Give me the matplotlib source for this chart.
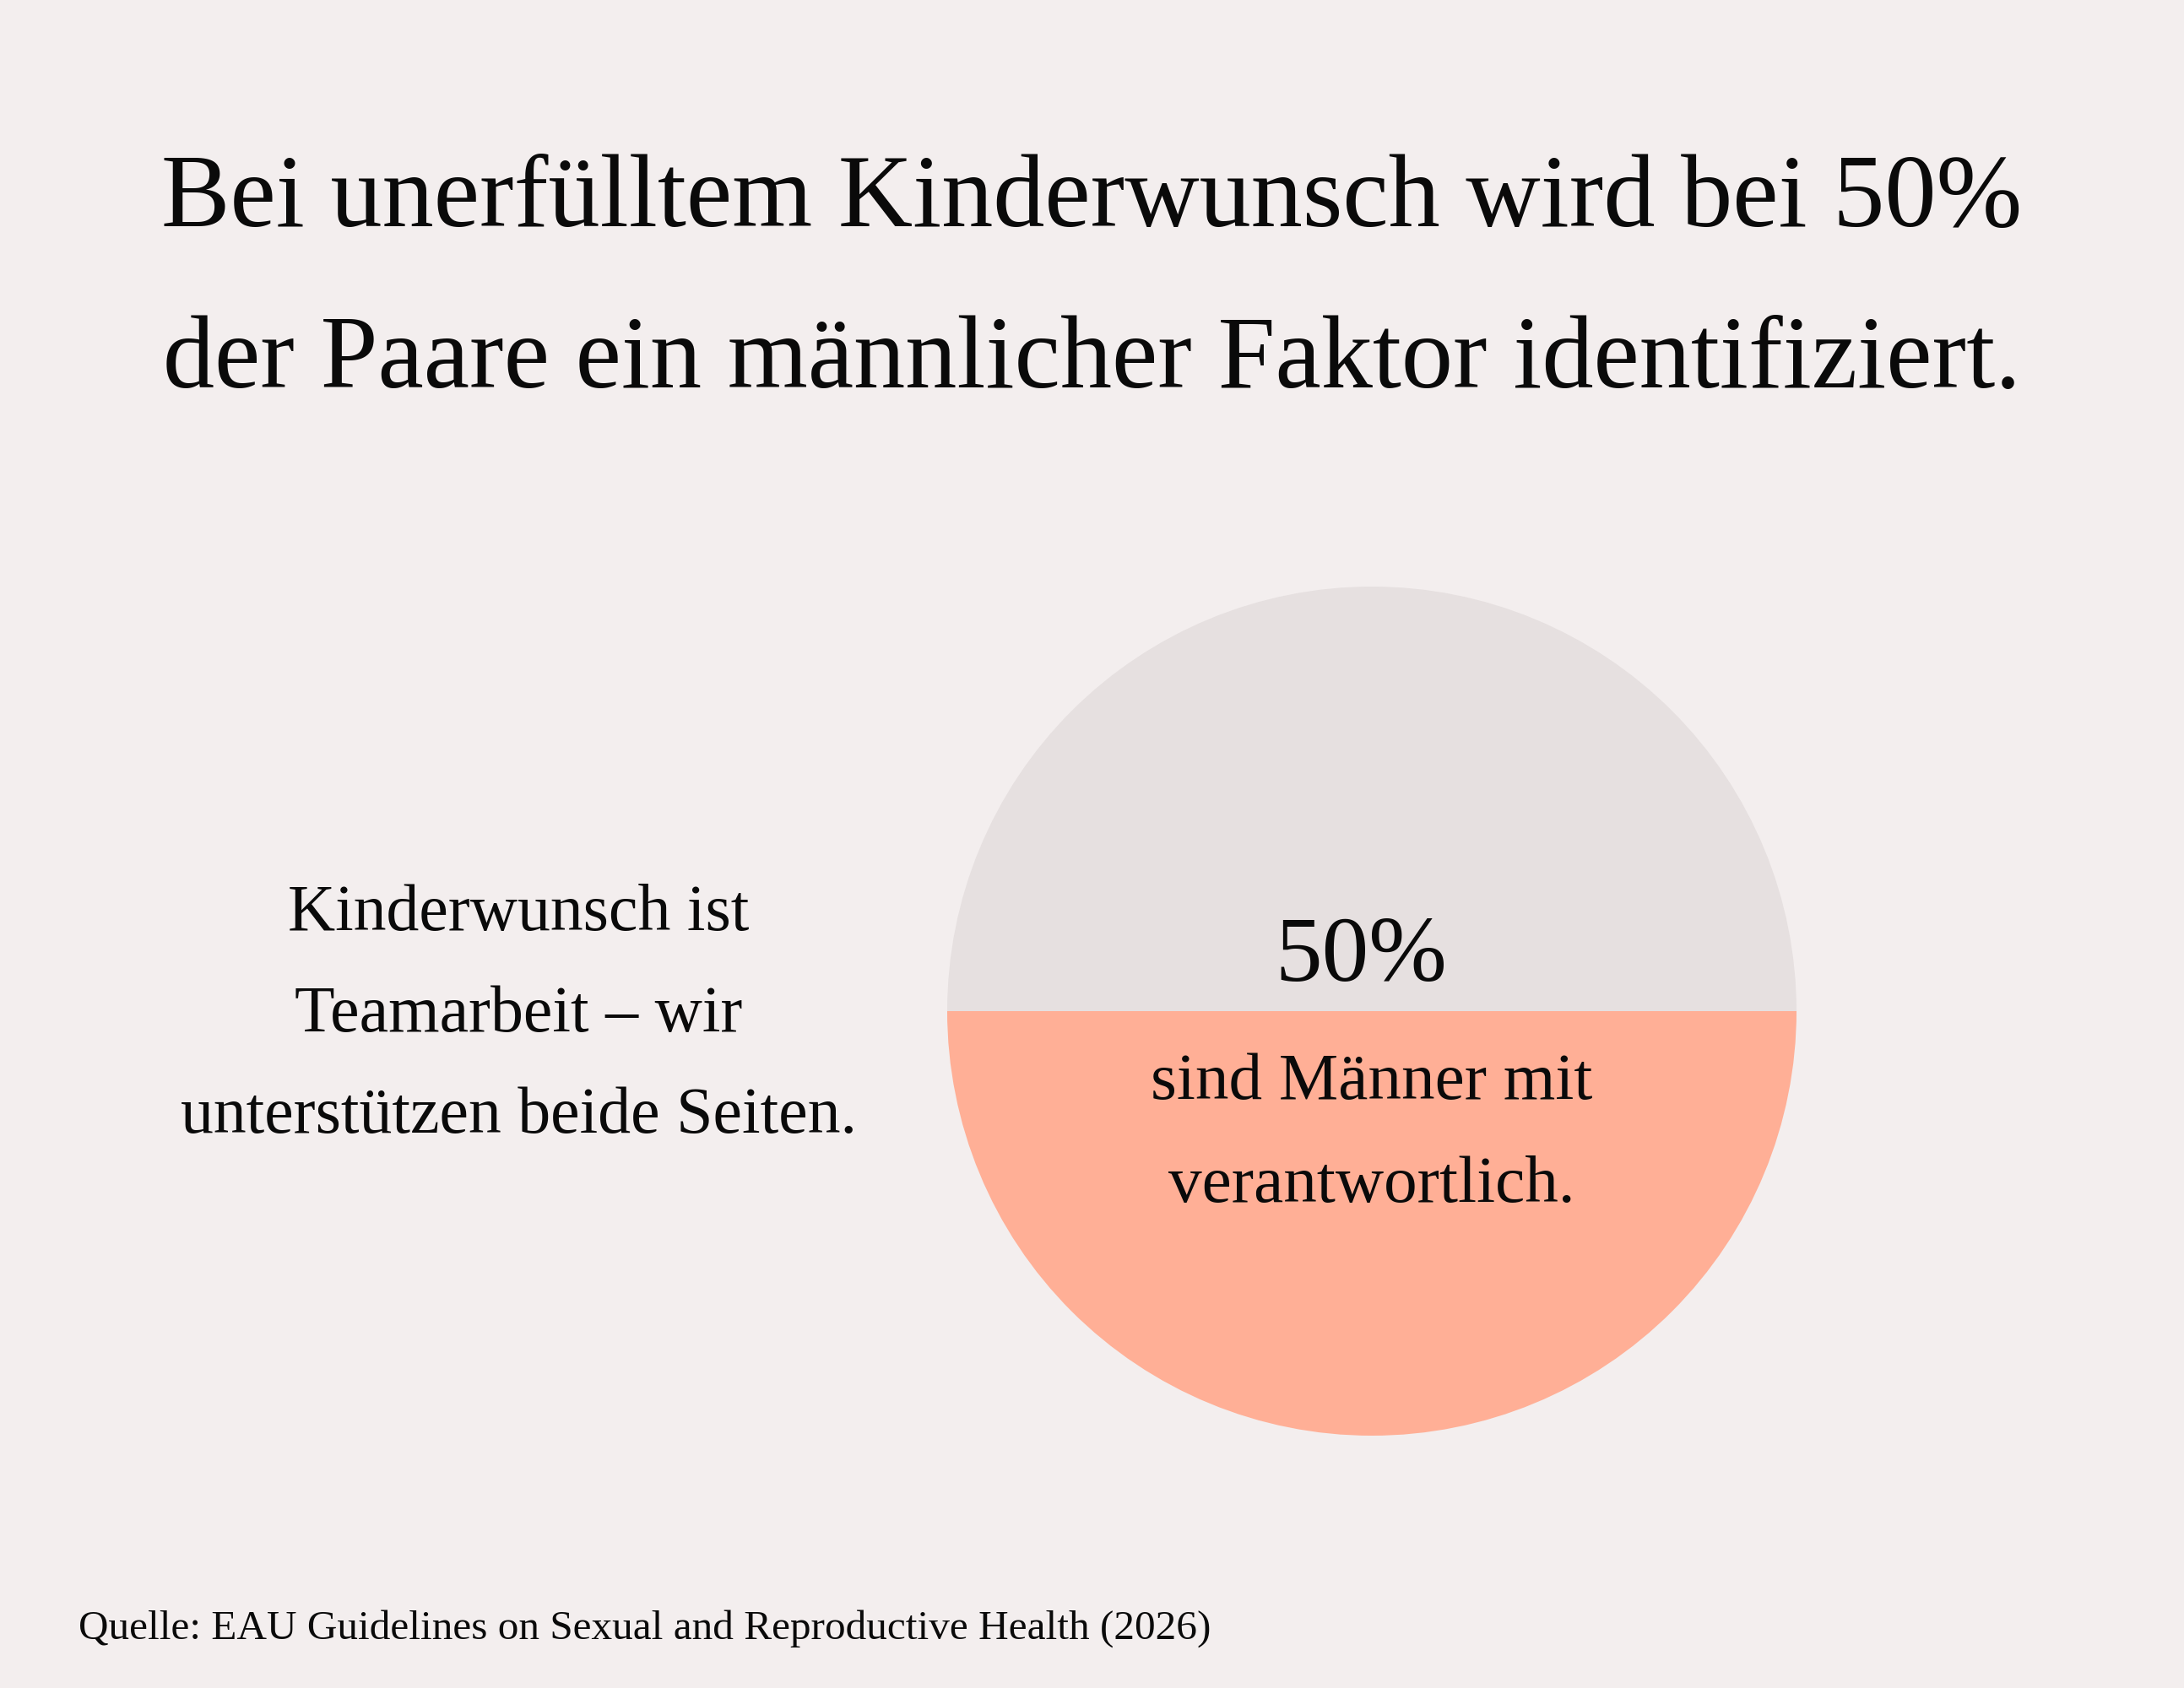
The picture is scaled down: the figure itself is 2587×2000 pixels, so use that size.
import matplotlib
matplotlib.use("Agg")
import matplotlib.pyplot as plt

# Data
categories = ["Männlicher Faktor", "Andere Faktoren"]
shares = [50, 50]
colors = ["#FFAF96", "#E6E0E0"]

title_lines = ["Bei unerfülltem Kinderwunsch wird bei 50%",
               "der Paare ein männlicher Faktor identifiziert."]
side_lines = ["Kinderwunsch ist", "Teamarbeit – wir", "unterstützen beide Seiten."]
pie_value = "50%"
pie_lines = ["sind Männer mit", "verantwortlich."]
source = "Quelle: EAU Guidelines on Sexual and Reproductive Health (2026)"

BG = "#F3EEEE"
INK = "#0A0A0A"
W, H = 2587, 2000
fig = plt.figure(figsize=(W / 100, H / 100), dpi=100, facecolor=BG)
FONT = "Liberation Serif"

def px(x, y):
    return x / W, 1 - y / H

# Pie
cx, cy, r = 1625, 1198, 503
ax = fig.add_axes([(cx - r) / W, (H - cy - r) / H, 2 * r / W, 2 * r / H])
ax.pie(shares, colors=colors, startangle=180, counterclock=True, radius=1,
       wedgeprops=dict(linewidth=0))
ax.set_xlim(-1, 1)
ax.set_ylim(-1, 1)
ax.set_aspect("equal")
ax.axis("off")

# Title
for i, line in enumerate(title_lines):
    fig.text(*px(1293, 268 + i * 191), line, ha="center", va="baseline",
             fontsize=88, family=FONT, color=INK)

# Side text
for i, line in enumerate(side_lines):
    fig.text(*px(614, 1102 + i * 120), line, ha="center", va="baseline",
             fontsize=56, family=FONT, color=INK)

# Pie labels
fig.text(*px(1612, 1162), pie_value, ha="center", va="baseline",
         fontsize=80, family=FONT, color=INK)
for i, line in enumerate(pie_lines):
    fig.text(*px(1625, 1302 + i * 122), line, ha="center", va="baseline",
             fontsize=57, family=FONT, color=INK)

# Source
fig.text(*px(93, 1942), source, ha="left", va="baseline",
         fontsize=35.5, family=FONT, color=INK)

fig.savefig("out.png", dpi=100, facecolor=BG)
